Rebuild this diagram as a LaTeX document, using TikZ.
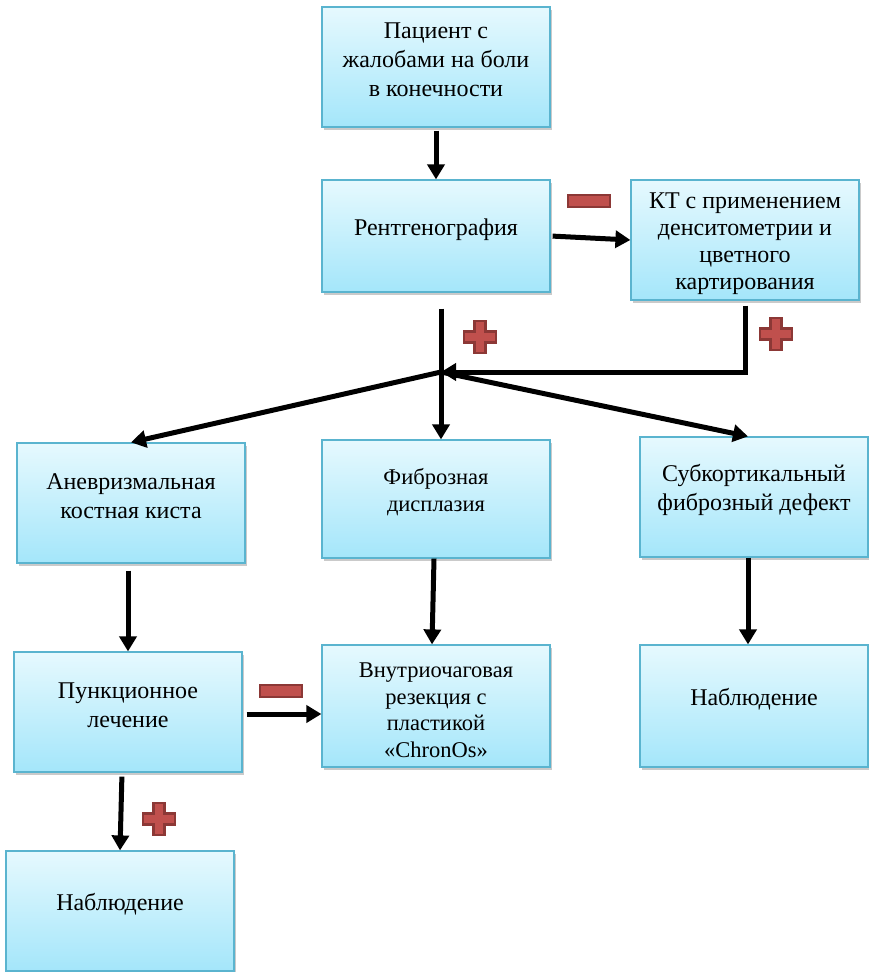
\documentclass[tikz,border=0pt]{standalone}
\usepackage{fontspec}
\setmainfont{Liberation Serif}
\usetikzlibrary{arrows.meta,shadows}
\definecolor{boxtop}{HTML}{E6F9FE}
\definecolor{boxbot}{HTML}{A4E6FA}
\definecolor{boxline}{HTML}{5AB4CF}
\definecolor{signfill}{HTML}{C0504D}
\definecolor{signline}{HTML}{8C3836}

\begin{document}
\begin{tikzpicture}[x=1pt, y=-1pt,
    card/.style={rectangle, draw=boxline, line width=1.2pt, top color=boxtop, bottom color=boxbot,
        minimum width=228pt, minimum height=120pt, inner sep=0pt,
        drop shadow={shadow xshift=2pt, shadow yshift=-3pt, opacity=0.35, fill=black!60}},
    txt/.style={align=center, font=\fontsize{24}{29}\selectfont, yshift=7pt},
    small/.style={font=\fontsize{22.5}{26.5}\selectfont},
    arr/.style={line width=5pt, -{Triangle[length=15pt, width=17pt]}},
    plusmark/.pic={\draw[fill=signfill, draw=signline, line width=2.5pt]
        (-5.5,-16) -- (5.5,-16) -- (5.5,-5.5) -- (16,-5.5) -- (16,5.5) -- (5.5,5.5) -- (5.5,16)
        -- (-5.5,16) -- (-5.5,5.5) -- (-16,5.5) -- (-16,-5.5) -- (-5.5,-5.5) -- cycle;},
    minusmark/.pic={\draw[fill=signfill, draw=signline, line width=2.5pt] (-21,-6) rectangle (21,6);}]
    \useasboundingbox (0,0) rectangle (869,972);
    \node[card, label={[txt]center:Пациент с\\жалобами на боли\\в конечности}] (patient) at (436,67) {};
    \node[card, minimum height=112pt, label={[txt, yshift=-1pt]center:Рентгенография}] (xray) at (436,236) {};
    \node[card, label={[txt, yshift=-11pt, font=\fontsize{24}{27}\selectfont]center:КТ с применением\\денситометрии и\\цветного\\картирования}] (ct) at (745,240) {};
    \node[card, label={[txt]center:Аневризмальная\\костная киста}] (aneur) at (131,503) {};
    \node[card, minimum height=118pt, label={[txt, small]center:Фиброзная\\дисплазия}] (fibro) at (436,499) {};
    \node[card, label={[txt]center:Субкортикальный\\фиброзный дефект}] (subc) at (754,497) {};
    \node[card, label={[txt]center:Пункционное\\лечение}] (punct) at (128,712) {};
    \node[card, minimum height=122pt, label={[txt, small, yshift=-11pt]center:Внутриочаговая\\резекция с\\пластикой\\«ChronOs»}] (intra) at (436,706) {};
    \node[card, minimum height=122pt, label={[txt]center:Наблюдение}] (obs1) at (754,706) {};
    \node[card, label={[txt]center:Наблюдение}] (obs2) at (120,911) {};
    \coordinate (hub) at (441,372);

    \draw[arr, shorten <=3pt] (patient) -- (xray);
    \draw[arr, shorten <=2pt] (xray.east) -- (ct.west);
    \draw[arr, shorten <=16pt] (xray.south -| hub) -- (fibro.north -| hub);
    \draw[arr, shorten <=5pt] (ct.south) |- (hub);
    \draw[arr] (hub) -- (aneur.north);
    \draw[arr] (hub) -- ([xshift=-6pt]subc.north);
    \draw[arr, shorten <=7pt] ([xshift=-3pt]aneur.south) -- (punct.north);
    \draw[arr] ([xshift=-2pt]fibro.south) -- ([xshift=-4pt]intra.north);
    \draw[arr] ([xshift=-6pt]subc.south) -- ([xshift=-6pt]obs1.north);
    \draw[arr, shorten <=4pt] ([yshift=-2pt]punct.east) -- ([yshift=-2pt]punct.east -| intra.west);
    \draw[arr, shorten <=4pt] ([xshift=-6pt]punct.south) -- (obs2.north);

    \pic at (589,201) {minusmark};
    \pic at (480,337) {plusmark};
    \pic at (776,334) {plusmark};
    \pic at (281,691) {minusmark};
    \pic at (159,819) {plusmark};
\end{tikzpicture}
\end{document}
